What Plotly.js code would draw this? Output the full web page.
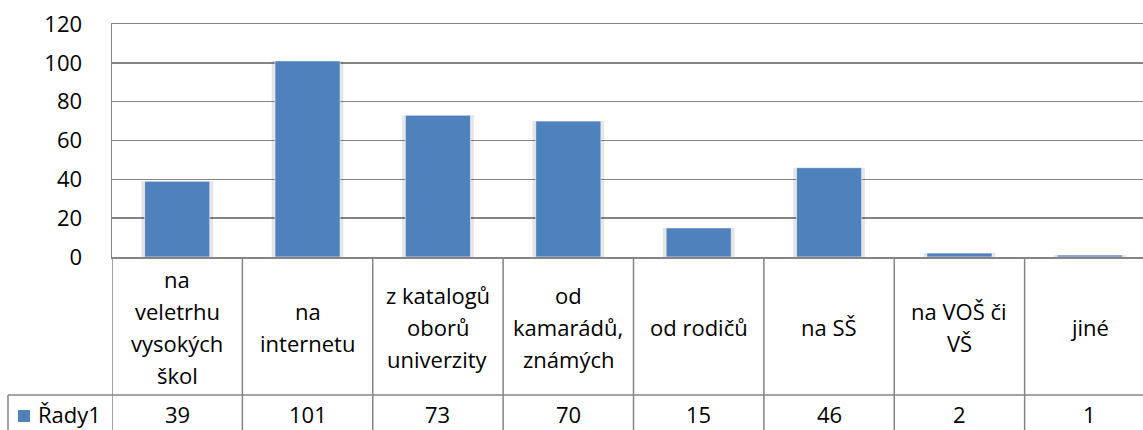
<!DOCTYPE html>
<html>
<head>
<meta charset="utf-8">
<script src="https://cdn.plot.ly/plotly-3.0.1.min.js"></script>
<style>
html,body{margin:0;padding:0;overflow:hidden;background:#fff;width:1143px;height:430px;}
#chart{width:1160px;height:430px;}
</style>
</head>
<body>
<div id="chart"></div>
<script>
// ---- data ----
const categories = ["na veletrhu vysokých škol", "na internetu", "z katalogů oborů univerzity", "od kamarádů, známých", "od rodičů", "na SŠ", "na VOŠ či VŠ", "jiné"];
const categoryLines = [
  ["na", "veletrhu", "vysokých", "škol"],
  ["na", "internetu"],
  ["z katalogů", "oborů", "univerzity"],
  ["od", "kamarádů,", "známých"],
  ["od rodičů"],
  ["na SŠ"],
  ["na VOŠ či", "VŠ"],
  ["jiné"]
];
const seriesName = "Řady1";
const values = [39, 101, 73, 70, 15, 46, 2, 1];
const yTicks = [0, 20, 40, 60, 80, 100, 120];

// ---- style ----
const FONT = "Open Sans, Noto Sans, sans-serif";
const FS = 22;
const GRID = "#858585";
const BLUE = "#4F81BD";

const W = 1160, H = 430;
const mL = 112, mR = 5, mT = 24, mB = 173;
const plotH = H - mT - mB;
const plotW = W - mL - mR;
const py = px => (H - mB - px) / plotH; // pixel row -> paper y
const pxX = px => (px - mL) / plotW;    // pixel col -> paper x

const n = categories.length;

const traces = [
  { type: "bar", x: categories, y: values, width: 0.55, marker: { color: "rgba(0,0,0,0.10)", line: { width: 0 } },
    hoverinfo: "skip", showlegend: false },
  { type: "bar", x: categories, y: values, width: 0.5, name: seriesName,
    marker: { color: BLUE, line: { color: "rgba(255,255,255,0.6)", width: 1 } }, showlegend: false }
];

const annotations = [];
const shapes = [];

// category header labels (multi-line, centered in header row)
const headerCenter = py(327);
const lineGap = 32;
categoryLines.forEach((lines, i) => {
  lines.forEach((t, j) => {
    annotations.push({
      xref: "x", yref: "paper", x: categories[i], y: headerCenter,
      yshift: -(j - (lines.length - 1) / 2) * lineGap,
      text: t, showarrow: false, xanchor: "center", yanchor: "middle",
      font: { family: FONT, size: FS, color: "#000" }
    });
  });
});

// data table values
const valueRowY = py(414);
values.forEach((v, i) => {
  annotations.push({
    xref: "x", yref: "paper", x: categories[i], y: valueRowY,
    text: String(v), showarrow: false, xanchor: "center", yanchor: "middle", borderpad: 0,
    font: { family: FONT, size: FS, color: "#000" }
  });
});

// legend key label in table
annotations.push({
  xref: "paper", yref: "paper", x: pxX(37), y: valueRowY, xanchor: "left", yanchor: "middle", borderpad: 0,
  text: seriesName, showarrow: false, font: { family: FONT, size: FS, color: "#000" }
});
shapes.push({ type: "rect", xref: "paper", yref: "paper", x0: pxX(18), x1: pxX(30), y0: py(422), y1: py(410),
  fillcolor: BLUE, line: { width: 0 } });

// table grid lines
const lineStyle = { color: GRID, width: 1.5 };
for (let k = 0; k <= n; k++) {
  shapes.push({ type: "line", xref: "x", yref: "paper", x0: k - 0.5, x1: k - 0.5, y0: 0, y1: py(440), line: lineStyle, layer: "above" });
}
shapes.push({ type: "line", xref: "paper", yref: "paper", x0: pxX(8), x1: 1.05, y0: py(395), y1: py(395), line: lineStyle });
shapes.push({ type: "line", xref: "paper", yref: "paper", x0: pxX(8), x1: pxX(8), y0: py(395), y1: py(440), line: lineStyle });

const layout = {
  width: W, height: H,
  margin: { l: mL, r: mR, t: mT, b: mB, pad: 0 },
  paper_bgcolor: "#fff", plot_bgcolor: "#fff",
  barmode: "overlay",
  showlegend: false,
  font: { family: FONT, size: FS, color: "#000" },
  xaxis: { type: "category", range: [-0.5, n - 0.5], showticklabels: false, showgrid: false, zeroline: false,
    showline: true, mirror: true, linecolor: GRID, linewidth: 1.5, ticks: "", fixedrange: true },
  yaxis: { range: [0, 120], tickvals: yTicks, ticktext: yTicks.map(String), showgrid: true, gridcolor: GRID, gridwidth: 1.4,
    zeroline: false, showline: true, mirror: true, linecolor: GRID, linewidth: 1.5, ticks: "",
    ticklabelstandoff: 24, tickfont: { family: FONT, size: FS, color: "#000" }, fixedrange: true },
  annotations: annotations,
  shapes: shapes
};

Plotly.newPlot("chart", traces, layout, { displayModeBar: false, staticPlot: true });
</script>
</body>
</html>
